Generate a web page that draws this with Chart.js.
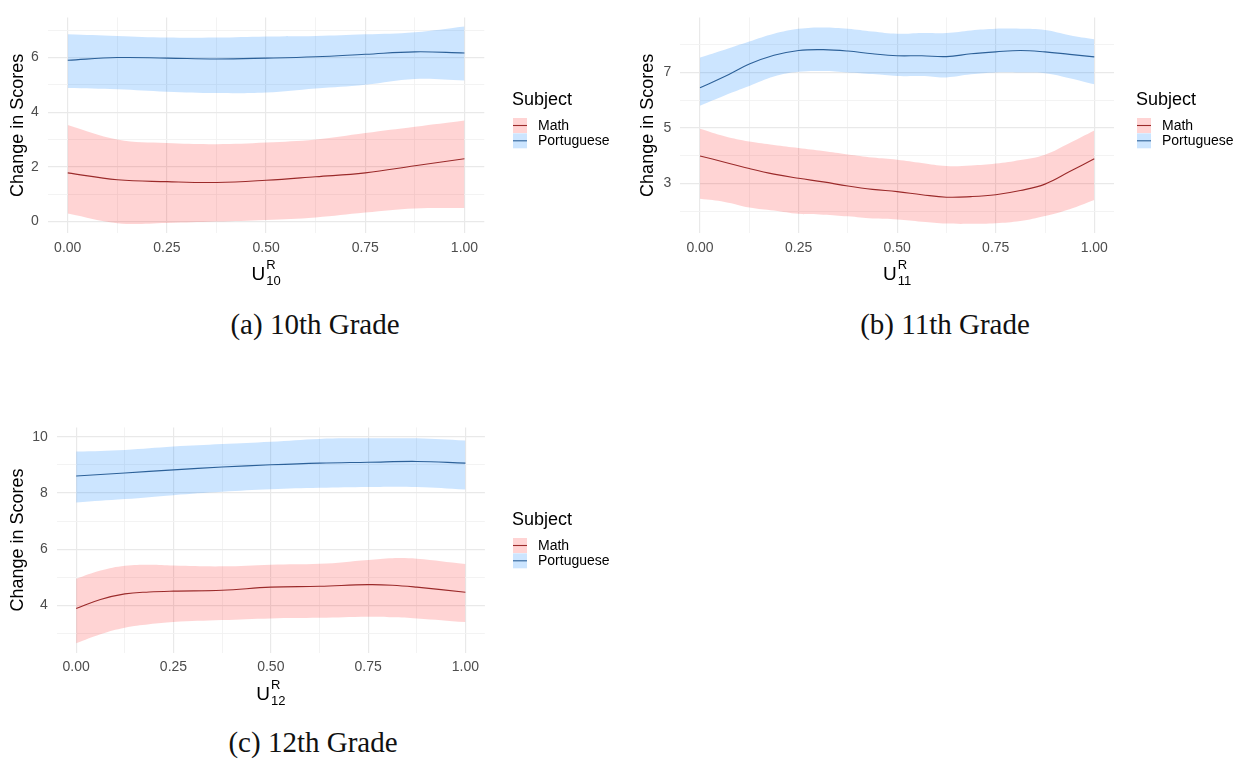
<!DOCTYPE html>
<html>
<head>
<meta charset="utf-8">
<script src="https://cdn.jsdelivr.net/npm/chart.js@4.4.1/dist/chart.umd.min.js"></script>
<style>
    body { margin: 0; background: #fff; width: 1248px; height: 763px; overflow: hidden; position: relative; }
    canvas { position: absolute; }
    .legenda { position: absolute; font-family: "Liberation Serif", serif; font-size: 29px; color: #111;
               transform: translateX(-50%); white-space: nowrap; line-height: 1; }
</style>
</head>
<body>
<canvas id="graficoA" width="620" height="300" style="left:0;top:0"></canvas>
<canvas id="graficoB" width="628" height="300" style="left:620px;top:0"></canvas>
<canvas id="graficoC" width="620" height="300" style="left:0;top:410px"></canvas>
<div class="legenda" style="left:315px;top:310px">(a) 10th Grade</div>
<div class="legenda" style="left:945px;top:310px">(b) 11th Grade</div>
<div class="legenda" style="left:313px;top:728px">(c) 12th Grade</div>

<script>
// Categorias
const materias = ['Math', 'Portuguese'];

// Ticks do eixo x (comuns aos três painéis)
const xMaiores = [0, 0.25, 0.5, 0.75, 1];
const xMenores = [0.125, 0.375, 0.625, 0.875];

// (a) 10th Grade
const xA = [0, 0.125, 0.25, 0.375, 0.5, 0.625, 0.75, 0.875, 1];
const mathA = [1.78, 1.53, 1.46, 1.43, 1.51, 1.64, 1.78, 2.04, 2.30];
const mathBaixoA = [0.29, -0.06, -0.05, 0.00, 0.06, 0.15, 0.33, 0.48, 0.50];
const mathAltoA = [3.53, 3.00, 2.87, 2.83, 2.89, 3.00, 3.24, 3.47, 3.70];
const portA = [5.90, 6.00, 5.98, 5.95, 5.98, 6.03, 6.12, 6.21, 6.17];
const portBaixoA = [4.89, 4.84, 4.75, 4.70, 4.72, 4.87, 5.01, 5.22, 5.16];
const portAltoA = [6.85, 6.79, 6.73, 6.73, 6.77, 6.79, 6.85, 6.93, 7.14];
const yMaioresA = [0, 2, 4, 6];
const yMenoresA = [1, 3, 5, 7];

// (b) 11th Grade
const xB = [0, 0.0625, 0.125, 0.1875, 0.25, 0.3125, 0.375, 0.4375, 0.5,
            0.5625, 0.625, 0.6875, 0.75, 0.8125, 0.875, 0.9375, 1];
const mathB = [3.99, 3.77, 3.54, 3.34, 3.19, 3.06, 2.91, 2.79, 2.71, 2.60, 2.51, 2.53, 2.60, 2.75, 2.98, 3.43, 3.89];
const mathBaixoB = [2.45, 2.34, 2.14, 2.03, 1.91, 1.88, 1.82, 1.74, 1.71, 1.63, 1.56, 1.55, 1.57, 1.65, 1.83, 2.08, 2.41];
const mathAltoB = [4.97, 4.70, 4.51, 4.39, 4.28, 4.17, 4.05, 3.94, 3.86, 3.74, 3.63, 3.65, 3.72, 3.85, 4.04, 4.46, 4.91];
const portB = [6.45, 6.85, 7.30, 7.62, 7.79, 7.82, 7.77, 7.67, 7.60, 7.60, 7.57, 7.67, 7.74, 7.79, 7.74, 7.65, 7.56];
const portBaixoB = [5.80, 6.17, 6.51, 6.85, 7.02, 7.05, 7.00, 6.94, 6.87, 6.87, 6.82, 6.93, 7.00, 7.00, 6.97, 6.79, 6.57];
const portAltoB = [7.54, 7.82, 8.11, 8.39, 8.57, 8.62, 8.57, 8.47, 8.39, 8.42, 8.42, 8.51, 8.57, 8.57, 8.53, 8.34, 8.19];
const yMaioresB = [3, 5, 7];
const yMenoresB = [2, 4, 6, 8];

// (c) 12th Grade
const xMathC = [0, 0.0625, 0.125, 0.1875, 0.25, 0.375, 0.5, 0.625, 0.75, 0.8125, 0.875, 1];
const mathC = [3.89, 4.21, 4.41, 4.48, 4.51, 4.54, 4.65, 4.68, 4.74, 4.72, 4.65, 4.47];
const mathBaixoC = [2.66, 2.98, 3.21, 3.33, 3.41, 3.48, 3.54, 3.56, 3.60, 3.58, 3.54, 3.41];
const mathAltoC = [4.95, 5.24, 5.41, 5.45, 5.42, 5.39, 5.45, 5.48, 5.62, 5.68, 5.66, 5.47];
const xPortC = [0, 0.125, 0.25, 0.375, 0.5, 0.625, 0.75, 0.875, 1];
const portC = [8.60, 8.71, 8.82, 8.92, 9.00, 9.06, 9.09, 9.12, 9.06];
const portBaixoC = [7.66, 7.78, 7.92, 8.04, 8.13, 8.18, 8.21, 8.21, 8.12];
const portAltoC = [9.47, 9.53, 9.65, 9.74, 9.82, 9.92, 9.94, 9.94, 9.86];
const yMaioresC = [4, 6, 8, 10];
const yMenoresC = [3, 5, 7, 9];

// Cores
const corLinha = { Math: '#9b2a2a', Portuguese: '#2c6199' };
const corFaixa = { Math: 'rgba(255,0,0,0.17)', Portuguese: 'rgba(0,125,255,0.2)' };
const fonte = '"Liberation Sans", Arial, sans-serif';

function pontos(xs, ys) {
    return xs.map((x, i) => ({ x: x, y: ys[i] }));
}

// Plugin que desenha títulos dos eixos e a legenda
const decoracao = {
    id: 'decoracao',
    afterDraw(chart, args, o) {
        const ctx = chart.ctx;
        const area = chart.chartArea;
        ctx.save();
        ctx.fillStyle = '#000';

        // título do eixo y
        ctx.save();
        ctx.translate(o.yTituloX, (area.top + area.bottom) / 2);
        ctx.rotate(-Math.PI / 2);
        ctx.font = '18px ' + fonte;
        ctx.textAlign = 'center';
        ctx.textBaseline = 'middle';
        ctx.fillText('Change in Scores', 0, 0);
        ctx.restore();

        // título do eixo x: U com R sobrescrito e série subscrita
        ctx.font = '19px ' + fonte;
        const larguraU = ctx.measureText('U').width;
        ctx.font = '13px ' + fonte;
        const larguraSub = Math.max(ctx.measureText(o.serie).width, ctx.measureText('R').width);
        const inicio = (area.left + area.right) / 2 - (larguraU + 1 + larguraSub) / 2;
        ctx.textAlign = 'left';
        ctx.textBaseline = 'alphabetic';
        ctx.font = '19px ' + fonte;
        ctx.fillText('U', inicio, o.xTituloY);
        ctx.font = '13px ' + fonte;
        ctx.fillText('R', inicio + larguraU + 1, o.xTituloY - 11);
        ctx.fillText(o.serie, inicio + larguraU + 1, o.xTituloY + 5);

        // legenda
        ctx.textBaseline = 'middle';
        ctx.font = '18px ' + fonte;
        ctx.fillText('Subject', o.legX, o.legY);
        materias.forEach((m, i) => {
            const topo = o.legY + 18 + i * 15.3;
            ctx.fillStyle = '#fff';
            ctx.fillRect(o.legX + 1, topo, 14, 15);
            ctx.fillStyle = corFaixa[m];
            ctx.fillRect(o.legX + 1, topo, 14, 15);
            ctx.strokeStyle = corLinha[m];
            ctx.lineWidth = 1.1;
            ctx.beginPath();
            ctx.moveTo(o.legX + 1, topo + 7.5);
            ctx.lineTo(o.legX + 15, topo + 7.5);
            ctx.stroke();
            ctx.fillStyle = '#000';
            ctx.font = '14px ' + fonte;
            ctx.fillText(m, o.legX + 26, topo + 7.8);
        });
        ctx.restore();
    }
};

function criarPainel(id, d, lay) {
    const yTicks = d.yMaiores.concat(d.yMenores).sort((a, b) => a - b);
    const xTicks = xMaiores.concat(xMenores).sort((a, b) => a - b);
    const base = { pointRadius: 0, pointHoverRadius: 0, borderWidth: 0, fill: false, order: 1 };

    const ctx = document.getElementById(id).getContext('2d');
    new Chart(ctx, {
        type: 'line',
        data: {
            datasets: [
                { data: pontos(d.xMath, d.math), borderColor: corLinha.Math, borderWidth: 1.1, pointRadius: 0, fill: false, order: 0 },
                { data: pontos(d.xPort, d.port), borderColor: corLinha.Portuguese, borderWidth: 1.1, pointRadius: 0, fill: false, order: 0 },
                { ...base, data: pontos(d.xMath, d.mathBaixo) },
                { ...base, data: pontos(d.xMath, d.mathAlto), fill: '-1', backgroundColor: corFaixa.Math },
                { ...base, data: pontos(d.xPort, d.portBaixo) },
                { ...base, data: pontos(d.xPort, d.portAlto), fill: '-1', backgroundColor: corFaixa.Portuguese },
            ]
        },
        options: {
            responsive: false,
            animation: false,
            events: [],
            layout: { padding: { left: 0, top: lay.topo, right: lay.direita, bottom: 0 } },
            elements: { line: { tension: 0.4 } },
            plugins: {
                legend: { display: false },
                tooltip: { enabled: false },
                decoracao: { serie: d.serie, yTituloX: lay.yTituloX, xTituloY: lay.xTituloY, legX: lay.legX, legY: lay.legY }
            },
            scales: {
                x: {
                    type: 'linear', min: -0.05, max: 1.05,
                    afterFit: s => { s.height = lay.alturaX; },
                    afterBuildTicks: s => { s.ticks = xTicks.map(v => ({ value: v })); },
                    ticks: {
                        autoSkip: false, maxRotation: 0, padding: 6, color: '#4d4d4d',
                        font: { family: fonte, size: 14 },
                        callback: v => xMaiores.includes(v) ? v.toFixed(2) : ''
                    },
                    grid: {
                        drawTicks: false,
                        color: c => xMaiores.includes(c.tick.value) ? '#e9e9e9' : '#f2f2f2',
                        lineWidth: c => xMaiores.includes(c.tick.value) ? 1.2 : 0.9
                    },
                    border: { display: false }
                },
                y: {
                    type: 'linear', min: d.yMin, max: d.yMax,
                    afterFit: s => { s.width = lay.esquerda; },
                    afterBuildTicks: s => { s.ticks = yTicks.map(v => ({ value: v })); },
                    ticks: {
                        autoSkip: false, padding: 9, color: '#4d4d4d',
                        font: { family: fonte, size: 14 },
                        callback: v => d.yMaiores.includes(v) ? String(v) : ''
                    },
                    grid: {
                        drawTicks: false,
                        color: c => d.yMaiores.includes(c.tick.value) ? '#e9e9e9' : '#f2f2f2',
                        lineWidth: c => d.yMaiores.includes(c.tick.value) ? 1.2 : 0.9
                    },
                    border: { display: false }
                }
            }
        },
        plugins: [decoracao]
    });
}

criarPainel('graficoA',
    { serie: '10', xMath: xA, xPort: xA, math: mathA, mathBaixo: mathBaixoA, mathAlto: mathAltoA,
      port: portA, portBaixo: portBaixoA, portAlto: portAltoA,
      yMaiores: yMaioresA, yMenores: yMenoresA, yMin: -0.43, yMax: 7.47 },
    { esquerda: 47.9, direita: 620 - 484.3, topo: 6.7, alturaX: 300 - 233.3,
      yTituloX: 18, xTituloY: 280, legX: 512, legY: 100 });

criarPainel('graficoB',
    { serie: '11', xMath: xB, xPort: xB, math: mathB, mathBaixo: mathBaixoB, mathAlto: mathAltoB,
      port: portB, portBaixo: portBaixoB, portAlto: portAltoB,
      yMaiores: yMaioresB, yMenores: yMenoresB, yMin: 1.21, yMax: 8.98 },
    { esquerda: 60.3, direita: 628 - 494, topo: 6, alturaX: 300 - 233.3,
      yTituloX: 28, xTituloY: 280, legX: 516, legY: 100 });

criarPainel('graficoC',
    { serie: '12', xMath: xMathC, xPort: xPortC, math: mathC, mathBaixo: mathBaixoC, mathAlto: mathAltoC,
      port: portC, portBaixo: portBaixoC, portAlto: portAltoC,
      yMaiores: yMaioresC, yMenores: yMenoresC, yMin: 2.32, yMax: 10.33 },
    { esquerda: 56.7, direita: 620 - 484.9, topo: 15, alturaX: 300 - 242.7,
      yTituloX: 18, xTituloY: 290, legX: 512, legY: 110 });
</script>
</body>
</html>
